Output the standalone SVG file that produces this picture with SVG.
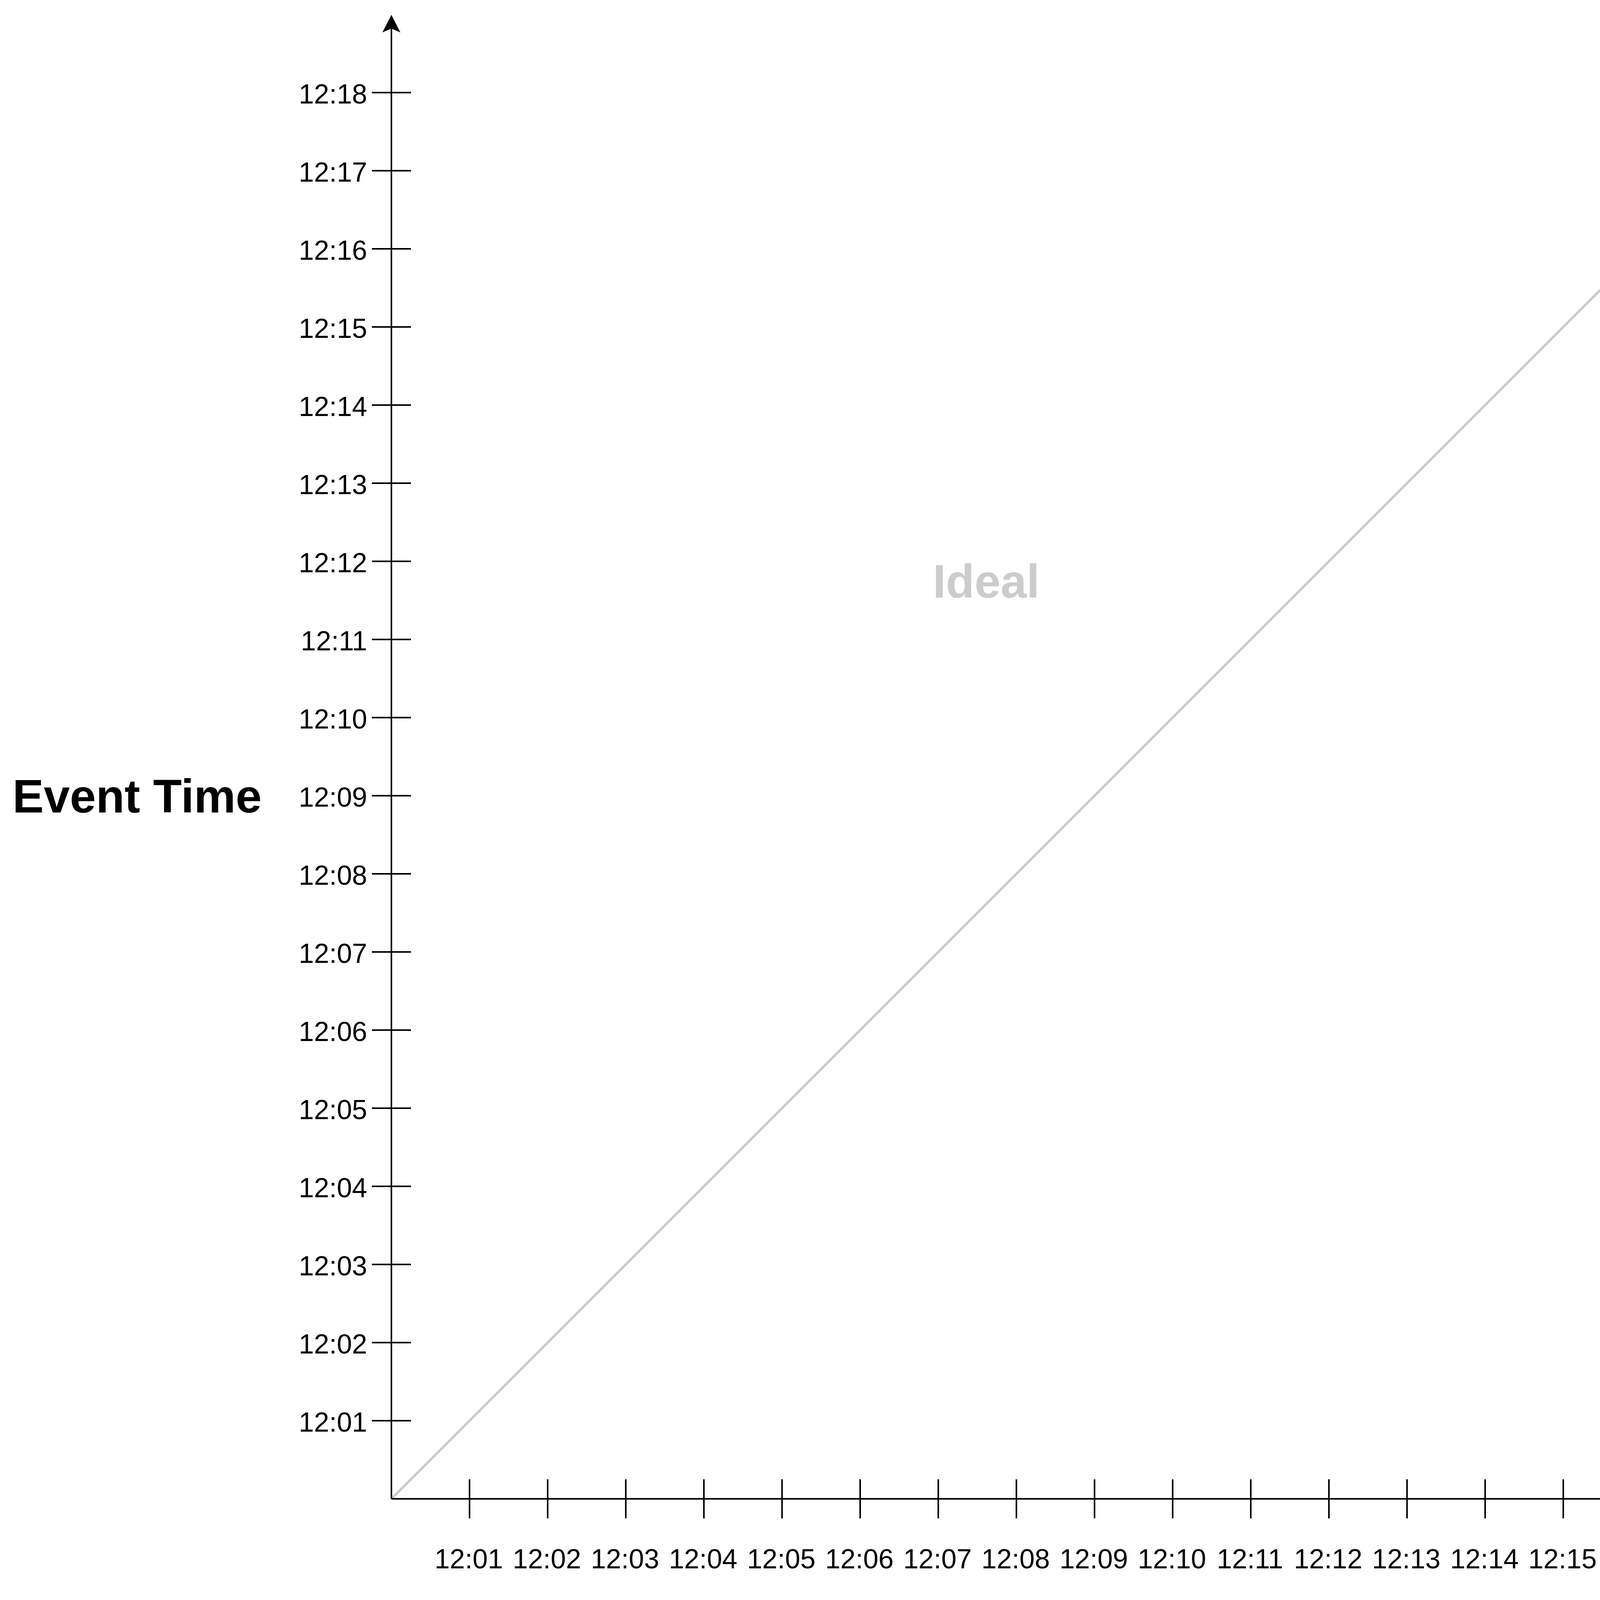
<svg xmlns="http://www.w3.org/2000/svg" width="5100" height="4260" viewBox="0 0 5100 4260">
<style>
.ax{stroke:#000;stroke-width:4;fill:none}
.tk{stroke:#000;stroke-width:4}
.ideal{stroke:#CCCCCC;stroke-width:6.5;fill:none}
.lbl{font-family:"Liberation Sans",Arial,sans-serif;font-size:70px;fill:#000}
.yl{text-anchor:end}
.xl{text-anchor:middle}
.title{font-family:"Liberation Sans",Arial,sans-serif;font-size:120px;font-weight:bold;fill:#000}
.idealtxt{font-family:"Liberation Sans",Arial,sans-serif;font-size:120px;font-weight:bold;fill:#CCCCCC}
</style>
<defs>
<marker id="arr" markerUnits="userSpaceOnUse" viewBox="0 0 45 46" refX="10" refY="23" markerWidth="45" markerHeight="46" orient="auto">
<path d="M0,0 L45,23 L0,46 L10,23 Z" fill="#000"/>
</marker>
</defs>
<rect width="5100" height="4260" fill="#fff"/>
<g id="connectors">
<line id="ideal-line" class="ideal" x1="1002" y1="3837" x2="4602" y2="237"/>
<line id="y-axis" class="ax" x1="1002" y1="3837" x2="1002" y2="73" marker-end="url(#arr)"/>
<line id="x-axis" class="ax" x1="1002" y1="3837" x2="5017" y2="3837" marker-end="url(#arr)"/>
<g id="y-ticks" class="tk">
<line x1="952" y1="3637" x2="1052" y2="3637"/>
<line x1="952" y1="3437" x2="1052" y2="3437"/>
<line x1="952" y1="3237" x2="1052" y2="3237"/>
<line x1="952" y1="3037" x2="1052" y2="3037"/>
<line x1="952" y1="2837" x2="1052" y2="2837"/>
<line x1="952" y1="2637" x2="1052" y2="2637"/>
<line x1="952" y1="2437" x2="1052" y2="2437"/>
<line x1="952" y1="2237" x2="1052" y2="2237"/>
<line x1="952" y1="2037" x2="1052" y2="2037"/>
<line x1="952" y1="1837" x2="1052" y2="1837"/>
<line x1="952" y1="1637" x2="1052" y2="1637"/>
<line x1="952" y1="1437" x2="1052" y2="1437"/>
<line x1="952" y1="1237" x2="1052" y2="1237"/>
<line x1="952" y1="1037" x2="1052" y2="1037"/>
<line x1="952" y1="837" x2="1052" y2="837"/>
<line x1="952" y1="637" x2="1052" y2="637"/>
<line x1="952" y1="437" x2="1052" y2="437"/>
<line x1="952" y1="237" x2="1052" y2="237"/>
</g>
<g id="x-ticks" class="tk">
<line x1="1202" y1="3787" x2="1202" y2="3887"/>
<line x1="1402" y1="3787" x2="1402" y2="3887"/>
<line x1="1602" y1="3787" x2="1602" y2="3887"/>
<line x1="1802" y1="3787" x2="1802" y2="3887"/>
<line x1="2002" y1="3787" x2="2002" y2="3887"/>
<line x1="2202" y1="3787" x2="2202" y2="3887"/>
<line x1="2402" y1="3787" x2="2402" y2="3887"/>
<line x1="2602" y1="3787" x2="2602" y2="3887"/>
<line x1="2802" y1="3787" x2="2802" y2="3887"/>
<line x1="3002" y1="3787" x2="3002" y2="3887"/>
<line x1="3202" y1="3787" x2="3202" y2="3887"/>
<line x1="3402" y1="3787" x2="3402" y2="3887"/>
<line x1="3602" y1="3787" x2="3602" y2="3887"/>
<line x1="3802" y1="3787" x2="3802" y2="3887"/>
<line x1="4002" y1="3787" x2="4002" y2="3887"/>
<line x1="4202" y1="3787" x2="4202" y2="3887"/>
<line x1="4402" y1="3787" x2="4402" y2="3887"/>
<line x1="4602" y1="3787" x2="4602" y2="3887"/>
</g>
</g>
<g id="y-labels" class="lbl yl">
<text x="940" y="3665">12:01</text>
<text x="940" y="3465">12:02</text>
<text x="940" y="3265">12:03</text>
<text x="940" y="3065">12:04</text>
<text x="940" y="2865">12:05</text>
<text x="940" y="2665">12:06</text>
<text x="940" y="2465">12:07</text>
<text x="940" y="2265">12:08</text>
<text x="940" y="2065">12:09</text>
<text x="940" y="1865">12:10</text>
<text x="940" y="1665">12:11</text>
<text x="940" y="1465">12:12</text>
<text x="940" y="1265">12:13</text>
<text x="940" y="1065">12:14</text>
<text x="940" y="865">12:15</text>
<text x="940" y="665">12:16</text>
<text x="940" y="465">12:17</text>
<text x="940" y="265">12:18</text>
</g>
<g id="x-labels" class="lbl xl">
<text x="1200" y="4015">12:01</text>
<text x="1400" y="4015">12:02</text>
<text x="1600" y="4015">12:03</text>
<text x="1800" y="4015">12:04</text>
<text x="2000" y="4015">12:05</text>
<text x="2200" y="4015">12:06</text>
<text x="2400" y="4015">12:07</text>
<text x="2600" y="4015">12:08</text>
<text x="2800" y="4015">12:09</text>
<text x="3000" y="4015">12:10</text>
<text x="3200" y="4015">12:11</text>
<text x="3400" y="4015">12:12</text>
<text x="3600" y="4015">12:13</text>
<text x="3800" y="4015">12:14</text>
<text x="4000" y="4015">12:15</text>
<text x="4200" y="4015">12:16</text>
<text x="4400" y="4015">12:17</text>
<text x="4600" y="4015">12:18</text>
</g>
<g id="event-time-title"><text class="title" x="32" y="2080">Event Time</text></g>
<g id="processing-time-title"><text class="title" x="2927" y="4230" text-anchor="middle">Processing Time</text></g>
<g id="ideal-label"><text class="idealtxt" x="2388" y="1530">Ideal</text></g>
</svg>
